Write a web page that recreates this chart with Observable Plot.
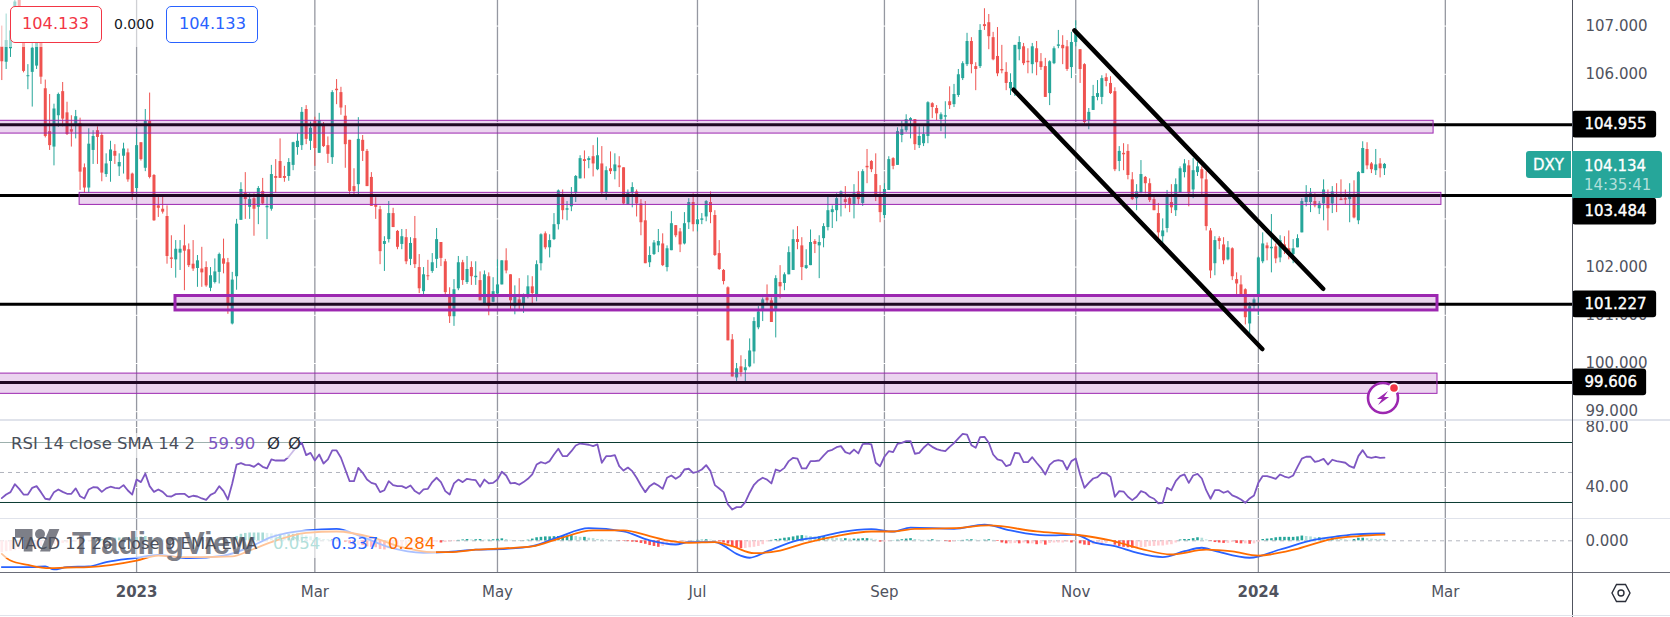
<!DOCTYPE html>
<html><head><meta charset="utf-8">
<script src="https://cdn.jsdelivr.net/npm/d3@7"></script>
<script src="https://cdn.jsdelivr.net/npm/@observablehq/plot@0.6"></script>
<style>
html,body{margin:0;padding:0;background:#fff;overflow:hidden}
#wrap{position:relative;width:1670px;height:617px;overflow:hidden;font-family:"DejaVu Sans",sans-serif}
#wrap>div.p{position:absolute;left:0}
.a{position:absolute;white-space:pre;line-height:1}
svg{overflow:visible}
</style></head><body><div id="wrap"></div>
<script>
const opens=[106.57,106.25,106.53,106.9,107.55,106.75,105.95,106.04,106.17,106.66,
105.7,104.81,104.49,105.14,105.64,105.2,104.85,104.96,104.98,104.06,
103.64,104.42,104.83,104.73,103.92,104.19,104.4,104.08,104.3,104.37,
103.93,103.63,104.58,104.05,105.02,103.9,103.27,103.2,103.05,102.19,
102.15,102.29,102.44,102.36,102.06,101.97,101.96,101.99,101.56,101.68,
101.89,102.17,102.09,100.82,101.8,102.97,103.53,103.24,103.42,103.24,
103.57,103.23,103.2,103.88,104.19,103.88,103.88,104.11,104.48,104.52,
105.27,104.61,105.03,104.36,104.94,104.52,104.27,105.69,105.62,105.13,
104.63,103.67,103.71,104.63,104.4,103.86,103.29,103.19,102.47,102.57,
103.11,102.74,102.47,102.61,102.16,102.59,101.99,101.49,101.82,101.91,
102.16,102.51,102.11,101.43,100.97,101.55,102.09,101.68,101.99,101.78,
101.72,101.23,101.8,101.27,101.44,101.63,102.13,101.84,101.18,101.32,
101.22,101.4,101.59,101.43,102.07,102.69,102.4,102.57,102.88,103.44,
103.18,103.25,103.54,103.83,104.23,104.21,104.29,104.02,104.14,103.54,
104.04,103.98,104.1,104.06,103.29,103.54,103.56,103.31,102.96,102.09,
102.26,102.44,102.48,101.99,102.34,102.86,102.73,102.48,102.92,103.34,
102.88,102.97,103.04,103.34,103.07,102.28,101.93,101.57,100.49,99.7,
99.93,99.85,99.93,100.24,100.74,101.11,101.36,101.3,101.09,101.68,
101.66,101.84,101.93,102.57,102.44,101.97,102.03,102.53,102.44,102.59,
102.82,103.13,103.17,103.5,103.4,103.42,103.3,103.56,103.32,104.09,
104.19,103.92,103.5,103.07,103.59,104.25,104.11,104.73,104.83,105.04,
105.06,104.52,104.56,104.71,105.39,105.29,105.06,105.11,105.43,105.37,
105.56,105.91,106.2,106.68,106.16,106.16,107.03,107.07,106.76,106.37,
106.1,106.04,105.7,105.66,106.51,106.57,106.27,106.2,106.53,106.26,
106.16,105.6,106.22,106.58,106.6,106.57,106.14,106.66,106.51,106.2,
105.04,105.25,105.52,105.52,105.93,105.81,105.64,104.19,104.36,104.4,
103.81,103.42,103.54,103.86,103.73,103.4,103.11,102.63,102.8,103.34,
103.17,103.54,103.96,104.1,103.6,103.96,104.02,103.81,102.75,102.07,
102.59,102.46,102.15,102.38,101.74,101.63,101.53,100.82,101.18,101.4,
102.11,102.44,102.38,102.42,102.19,102.46,102.38,102.26,102.4,102.71,
103.34,103.34,103.36,103.21,103.31,103.5,103.31,103.5,103.41,103.42,
103.4,103.46,102.96,103.94,104.44,104.14,104.0,104.14,104.04];
const highs=[107.0,107.25,107.0,107.6,107.6,106.85,106.2,106.65,106.75,106.8,
105.88,105.58,105.38,105.61,105.83,105.42,105.14,105.25,105.09,104.14,
104.87,104.83,104.91,104.78,104.35,104.61,104.54,104.35,104.57,104.45,
103.95,104.87,104.58,105.27,105.61,103.92,103.45,103.45,103.27,102.65,
102.55,102.55,102.87,102.48,102.55,102.24,102.41,102.11,101.99,102.17,
102.29,102.58,102.18,101.89,102.99,103.75,103.96,103.52,103.52,103.67,
103.84,103.45,104.11,104.23,104.66,104.09,104.25,104.59,104.77,105.31,
105.35,105.01,105.11,105.19,105.0,104.7,105.66,105.89,105.73,105.35,
104.63,104.04,105.1,104.73,104.44,103.96,103.44,103.26,102.63,103.36,
103.22,102.76,102.78,102.78,102.61,103.05,102.26,101.99,102.14,102.28,
102.8,102.51,102.16,101.57,101.74,102.22,102.14,102.22,102.11,102.11,
101.9,101.92,101.88,101.78,102.15,102.13,102.38,101.84,101.61,101.76,
101.44,101.82,101.8,102.13,102.69,102.73,102.67,103.11,103.6,103.6,
103.36,103.65,103.9,104.31,104.41,104.29,104.52,104.68,104.5,104.08,
104.39,104.35,104.29,104.06,103.6,103.75,103.6,103.4,103.36,102.42,
102.55,102.78,102.69,102.44,103.15,102.86,102.8,103.13,103.42,103.52,
103.27,103.11,103.38,103.56,103.17,102.55,101.95,101.59,100.6,100.0,
100.16,100.08,100.51,100.95,101.18,101.36,101.63,101.36,101.82,102.03,
101.88,102.42,102.77,102.84,102.61,102.36,102.77,102.57,102.65,102.9,
103.46,103.27,103.52,103.58,103.67,103.48,103.71,103.98,104.02,104.44,
104.21,104.35,103.69,103.73,104.29,104.27,104.89,105.02,105.16,105.1,
105.06,104.91,104.91,105.43,105.41,105.35,105.2,105.43,105.74,105.79,
106.1,106.26,106.85,106.76,106.24,107.03,107.36,107.24,106.87,106.97,
106.6,106.24,106.01,106.6,106.78,106.64,106.53,106.64,106.68,106.43,
106.33,106.28,106.57,106.91,106.8,106.7,106.87,107.11,106.51,106.22,
105.29,105.77,105.87,105.97,106.01,105.95,105.72,104.5,104.56,104.54,
103.96,103.71,104.21,103.88,103.83,103.5,103.32,103.0,103.59,103.71,
103.83,104.08,104.23,104.21,104.25,104.17,104.08,103.98,102.8,102.63,
102.63,102.61,102.53,102.4,101.88,101.82,101.55,101.26,101.36,102.21,
102.71,102.5,103.09,102.48,102.65,102.63,102.75,102.57,102.67,103.42,
103.69,103.63,103.52,103.36,103.81,103.6,103.67,103.73,103.81,103.6,
103.73,103.79,103.98,104.6,104.58,104.17,104.44,104.25,104.15];
const lows=[105.87,106.1,106.35,106.85,106.9,106.03,105.68,105.32,106.1,105.79,
104.68,104.42,104.1,104.9,104.91,104.73,104.49,104.66,103.59,103.53,
103.53,104.13,104.13,103.77,103.86,103.76,104.13,103.88,103.93,103.76,
103.38,103.53,104.2,103.98,103.83,102.95,103.03,103.1,102.06,101.97,
101.77,101.93,101.51,101.99,101.91,101.58,101.58,101.58,101.49,101.65,
101.65,101.86,101.02,100.8,101.52,102.97,102.99,102.99,102.64,102.88,
103.28,102.57,103.16,103.53,103.84,103.76,103.78,104.0,104.32,104.42,
104.54,104.42,104.09,104.36,104.48,104.15,104.13,105.37,105.15,104.05,
103.5,103.5,103.5,104.19,103.67,103.26,102.99,102.05,101.91,102.5,
102.82,102.36,102.36,102.05,102.03,101.97,101.45,101.43,101.72,101.87,
101.97,102.01,101.41,100.83,100.77,101.51,101.62,101.64,101.62,101.62,
101.3,101.2,100.99,101.26,101.37,101.63,101.86,101.09,101.01,101.09,
101.04,101.34,101.24,101.28,101.92,102.36,102.19,102.55,102.77,102.98,
102.96,103.15,103.34,103.83,103.83,104.04,103.87,104.0,103.5,103.38,
103.92,103.81,103.65,103.29,103.29,103.23,103.04,102.65,102.07,101.99,
102.24,102.3,102.01,101.9,102.34,102.61,102.3,102.46,102.78,102.73,
102.73,102.88,102.94,102.9,102.22,101.93,101.63,100.47,99.72,99.6,
99.72,99.6,99.91,99.99,100.7,100.87,101.24,100.85,100.53,101.34,
101.51,101.84,101.93,102.36,101.72,101.95,102.03,102.28,101.76,102.4,
102.75,102.8,102.94,103.04,103.21,103.13,103.0,103.3,103.26,103.73,
103.96,103.36,102.92,103.0,103.59,104.02,104.11,104.58,104.79,104.66,
104.42,104.46,104.5,104.56,105.08,105.04,104.81,104.66,105.27,105.31,
105.52,105.87,106.16,106.01,105.66,106.12,106.91,106.51,106.28,105.95,
106.01,105.66,105.56,105.54,106.28,106.18,106.01,106.01,105.97,106.08,
105.52,105.35,106.2,106.53,106.2,106.06,105.91,106.57,105.81,104.96,
104.85,105.25,105.45,105.37,105.74,105.58,103.98,103.98,104.0,103.81,
103.38,103.17,103.52,103.52,103.34,103.17,102.55,102.46,102.71,103.11,
103.05,103.54,103.85,103.25,103.42,103.88,103.5,102.75,101.76,101.82,
102.36,102.05,102.13,101.72,101.43,101.4,100.8,100.6,101.09,100.99,
102.07,102.13,101.88,102.07,102.09,102.26,102.15,102.07,102.4,102.71,
103.25,103.13,103.23,103.09,102.96,102.75,103.11,103.13,103.38,103.29,
102.92,103.0,102.88,103.94,104.02,103.94,103.9,103.85,103.9];
const closes=[106.26,106.7,106.9,107.5,107.0,106.06,105.97,106.54,106.66,105.94,
104.71,104.52,105.28,105.58,105.07,104.75,104.8,105.12,103.97,103.64,
104.55,104.71,104.69,103.95,104.14,104.43,104.3,104.17,104.45,103.81,
103.52,104.52,104.23,105.02,103.86,102.96,103.22,103.14,102.22,102.16,
102.37,102.37,102.33,102.03,101.96,102.13,101.88,101.61,101.82,101.9,
102.26,102.06,101.23,101.73,102.89,103.61,103.4,103.4,103.2,103.63,
103.31,103.26,103.92,103.84,103.84,103.84,104.17,104.58,104.61,105.21,
104.65,104.88,104.46,105.04,104.5,104.34,105.62,105.66,105.3,104.54,
103.57,103.57,104.65,104.4,103.67,103.26,103.24,102.32,102.53,103.11,
102.82,102.41,102.63,102.11,102.49,102.05,101.55,101.84,101.8,102.09,
102.57,102.18,101.47,100.97,101.53,102.09,101.72,101.95,101.8,101.81,
101.3,101.84,101.18,101.49,101.63,102.13,101.92,101.3,101.37,101.22,
101.37,101.59,101.45,102.05,102.67,102.4,102.55,102.88,103.58,103.17,
103.21,103.46,103.88,104.25,104.19,104.25,104.14,104.31,103.54,104.0,
103.98,104.12,104.06,103.31,103.54,103.65,103.31,102.92,102.07,102.24,
102.5,102.53,102.03,102.38,102.9,102.65,102.46,102.9,103.34,102.88,
102.98,103.0,103.36,103.13,102.24,101.95,101.7,100.47,99.72,99.89,
99.81,99.91,100.26,100.87,101.07,101.32,101.3,100.85,101.76,101.59,
101.84,102.3,102.57,102.51,101.99,102.03,102.51,102.47,102.51,102.84,
103.17,103.19,103.42,103.56,103.34,103.3,103.52,103.4,103.98,104.06,
104.02,103.5,103.13,103.61,104.23,104.09,104.81,104.85,105.06,105.08,
104.54,104.71,104.75,105.41,105.31,105.18,105.16,105.14,105.35,105.58,
105.99,106.22,106.68,106.2,106.1,106.91,106.99,106.78,106.3,106.01,
106.07,105.81,105.83,106.6,106.66,106.22,106.24,106.57,106.24,106.14,
105.52,106.26,106.53,106.61,106.53,106.1,106.66,106.91,106.1,105.0,
105.21,105.54,105.6,105.91,105.85,105.6,104.02,104.4,104.33,103.9,
103.4,103.56,103.92,103.73,103.38,103.17,102.71,102.75,103.48,103.23,
103.71,104.04,104.14,103.52,104.0,104.08,103.83,102.84,101.92,102.55,
102.53,102.13,102.4,101.8,101.65,101.43,100.95,101.18,101.32,102.19,
102.48,102.38,102.41,102.17,102.55,102.38,102.24,102.38,102.59,103.36,
103.46,103.52,103.27,103.31,103.6,103.21,103.56,103.47,103.38,103.39,
103.46,103.02,103.96,104.46,104.1,104.02,104.12,104.04,104.13];
const rsiValues=[32.9,35.3,36.9,42.2,39.1,35.3,35.3,39.8,40.9,36.9,32.5,32.0,36.9,38.7,37.1,35.8,35.8,39.4,34.2,32.7,
38.7,40.2,40.0,37.1,39.4,40.5,39.8,39.4,41.6,38.0,35.3,45.3,43.6,49.3,40.9,37.1,38.7,37.1,34.2,34.0,
35.6,35.8,35.8,33.6,34.5,34.0,32.7,31.8,35.1,36.5,40.9,37.6,32.0,42.7,55.3,56.2,55.1,54.9,53.8,56.0,
53.8,52.7,58.7,58.0,58.0,58.0,60.5,64.2,67.6,69.8,61.6,63.1,58.0,62.0,56.0,58.7,64.7,64.7,59.8,52.0,
44.2,44.2,53.1,49.8,45.3,43.1,42.2,36.9,38.2,44.2,41.6,40.9,40.9,39.6,41.3,37.6,35.8,38.7,39.1,43.6,
46.5,43.6,37.6,35.3,42.7,45.3,43.6,45.8,45.3,44.9,40.5,45.3,42.7,43.1,45.3,50.5,48.0,42.7,43.1,41.8,
43.6,45.8,48.7,55.3,56.9,56.0,57.6,62.0,65.8,60.9,60.9,64.2,68.0,69.3,68.9,68.5,67.6,68.7,56.5,60.9,
60.9,61.6,54.2,51.3,53.3,50.9,46.5,41.3,36.9,40.9,42.9,41.3,39.1,46.5,48.0,45.8,47.6,52.0,52.5,49.8,
50.5,52.0,54.9,50.9,41.6,39.3,36.9,28.7,25.3,26.9,26.9,30.2,36.5,41.8,44.7,46.5,45.3,42.7,52.0,50.9,
53.1,57.6,59.8,59.3,52.7,52.7,57.6,57.6,58.0,61.3,64.2,65.1,66.9,67.6,63.6,62.5,65.3,62.7,68.9,69.3,
68.7,56.5,54.2,60.5,64.2,63.6,69.1,69.8,70.9,70.9,62.5,63.1,66.5,69.1,67.1,65.6,64.7,64.2,67.1,69.6,
72.7,75.8,75.3,68.2,66.5,73.6,73.8,69.8,62.0,58.7,58.0,54.2,55.3,63.1,62.7,56.9,56.9,60.2,56.5,53.1,
48.7,55.1,57.6,58.2,57.6,52.0,57.6,59.3,48.7,39.8,43.1,46.0,46.9,49.8,49.3,47.1,33.8,37.6,37.3,33.8,
31.6,33.8,37.6,36.5,33.8,32.5,29.4,29.8,39.8,38.2,44.2,47.6,48.7,43.1,48.0,49.1,46.0,38.2,32.5,38.2,
38.2,36.5,37.6,34.7,33.6,32.0,29.8,32.7,34.7,43.1,47.6,47.6,46.7,45.8,48.7,47.3,46.5,48.0,53.8,59.3,
60.5,60.5,57.1,57.8,59.1,55.3,58.5,57.6,57.1,56.5,54.2,53.1,60.9,64.9,60.5,59.8,60.5,59.8,59.9];
const macdBars=[0,4,7,10,12,15,20,24,31,36,43,51,57,62,70,77,82,89,97,102,109,116,122,128,135,143,149,155,158,164,166,169,172,176,183,188,193,200,205,209,219,226,232,240,247,251,256,261,267,272,276,279,287,294,302,307,312,318];
const macdValues=[-1.21,-1.21,-1.21,-1.18,-1.32,-1.21,-1.18,-0.98,-0.78,-0.65,-0.8,-0.68,-0.29,0.17,0.48,0.55,0.25,-0.29,-0.55,-0.52,-0.41,-0.37,-0.25,0.17,0.58,0.43,0.02,-0.17,-0.06,-0.06,-0.22,-0.6,-0.78,-0.49,0.02,0.17,0.4,0.54,0.43,0.61,0.55,0.75,0.48,0.25,0.28,-0.06,-0.25,-0.55,-0.75,-0.48,-0.32,-0.46,-0.78,-0.4,0.05,0.2,0.31,0.337];
const signalBars=[0,2,6,11,15,20,31,36,41,46,53,57,62,70,77,85,92,99,103,109,116,122,128,136,143,149,153,158,164,168,173,179,185,192,200,205,210,219,227,238,247,255,262,269,277,283,289,298,306,312,318];
const signalValues=[-0.6,-0.91,-1.11,-1.26,-1.23,-1.21,-0.91,-0.68,-0.75,-0.75,-0.72,-0.45,-0.06,0.37,0.43,0.17,-0.29,-0.52,-0.52,-0.41,-0.34,-0.26,0.09,0.48,0.48,0.22,0.02,-0.09,-0.06,-0.25,-0.57,-0.45,-0.09,0.22,0.43,0.43,0.55,0.58,0.71,0.43,0.28,0.02,-0.37,-0.63,-0.41,-0.49,-0.68,-0.37,0.09,0.22,0.284];
const histValues=[-0.55,-0.5,-0.48,-0.45,-0.4,-0.38,-0.35,-0.3,-0.28,-0.25,-0.22,-0.2,-0.18,-0.15,-0.12,-0.1,-0.08,-0.06,-0.05,-0.03,
-0.02,0.02,0.04,0.06,0.08,0.1,0.12,0.13,0.14,0.12,0.1,0.15,0.18,0.2,0.14,0.1,0.06,0.05,0.04,0.04,
0.03,0.03,0.02,0.02,0.02,0.01,0.01,0.01,0.02,0.03,0.06,0.05,0.02,0.1,0.2,0.3,0.34,0.36,0.36,0.36,
0.36,0.34,0.32,0.3,0.3,0.28,0.28,0.3,0.32,0.3,0.22,0.18,0.12,0.1,0.06,0.05,0.06,0.05,0.0,-0.08,
-0.14,-0.2,-0.2,-0.22,-0.28,-0.3,-0.32,-0.4,-0.42,-0.38,-0.32,-0.3,-0.28,-0.26,-0.24,-0.2,-0.16,-0.12,-0.06,-0.06,
-0.06,-0.1,-0.08,-0.06,-0.04,0.02,0.04,0.06,0.04,0.05,0.06,0.03,0.03,0.05,0.07,0.09,0.06,0.02,0.01,0.01,
0.01,0.03,0.08,0.14,0.16,0.18,0.18,0.19,0.2,0.2,0.22,0.24,0.2,0.16,0.16,0.12,0.1,0.06,0.05,0.03,
0.02,0.01,-0.01,-0.02,-0.04,-0.06,-0.08,-0.12,-0.16,-0.22,-0.26,-0.3,-0.26,-0.2,-0.16,-0.1,-0.06,-0.04,-0.02,0.01,
0.02,0.03,0.05,0.03,0.0,-0.05,-0.1,-0.15,-0.28,-0.32,-0.36,-0.35,-0.32,-0.3,-0.26,-0.18,-0.05,0.02,0.06,0.08,
0.12,0.14,0.18,0.22,0.24,0.22,0.2,0.18,0.18,0.2,0.16,0.14,0.12,0.1,0.1,0.08,0.08,0.08,0.1,0.1,
0.08,0.04,-0.06,-0.06,-0.02,0.01,0.03,0.05,0.08,0.1,0.06,0.04,0.02,0.02,0.05,0.02,0.01,-0.02,-0.06,-0.04,
0.01,0.02,0.04,0.05,0.03,0.02,0.03,0.05,0.02,-0.03,-0.1,-0.14,-0.14,-0.12,-0.14,-0.1,-0.14,-0.14,-0.18,-0.14,
-0.2,-0.12,-0.1,-0.1,-0.1,-0.06,-0.1,-0.04,-0.14,-0.2,-0.22,-0.18,-0.16,-0.14,-0.12,-0.04,-0.2,-0.26,-0.3,-0.32,
-0.34,-0.32,-0.32,-0.3,-0.26,-0.26,-0.24,-0.24,-0.2,-0.18,-0.1,0.04,0.06,0.06,0.1,0.14,0.12,0.04,-0.02,-0.08,
-0.1,-0.12,-0.12,-0.08,-0.12,-0.14,-0.14,-0.16,-0.14,-0.06,0.06,0.08,0.1,0.14,0.16,0.16,0.16,0.16,0.18,0.22,
0.2,0.18,0.14,0.14,0.12,0.1,0.1,0.08,0.06,0.04,0.02,0.06,0.12,0.12,0.1,0.08,0.06,0.055,0.054];

const monthBars=[31,72,114,160,203,247,289,332];
const monthLabels=["2023","Mar","May","Jul","Sep","Nov","2024","Mar"];
const yearBars=[31,289];
const priceTicks=[99,100,101,102,103,104,105,106,107];
const priceLabelTicks=[99,100,101,102,106,107];
const levelValues=[104.955,103.484,101.227,99.606];
const levelLabelAt=[104.955,103.15,101.227,99.606];
const levelLabelEnd=[380.6,380.6,380.6,378.3];
const levelLabels=["104.955","103.484","101.227","99.606"];
const zoneStart=[-5,17.9,-5];
const zoneEnd=[329.3,331.1,330.2];
const zoneTop=[105.035,103.54,99.79];
const zoneBottom=[104.77,103.29,99.37];
const thickStart=[39.95],thickEnd=[330.2],thickTop=[101.40],thickBottom=[101.10];
const channelA=[{x:246.7,y:106.91},{x:303.9,y:101.55}];
const channelB=[{x:232.7,y:105.68},{x:289.9,y:100.30}];

const GREEN="#26a69a",RED="#ef5350",GRID="#9598a1",AXIS="#50535e";
const XDOM=[-0.299,361.25];
const wrap=document.getElementById("wrap");
const common={width:1670,marginLeft:0,marginRight:98,marginTop:0,
  x:{domain:XDOM,axis:null},color:{type:"identity"},
  style:{background:"transparent",fontFamily:"DejaVu Sans",fontSize:"15px",overflow:"visible"}};
function place(el,top){const d=document.createElement("div");d.className="p";d.style.top=top+"px";d.appendChild(el);wrap.appendChild(d);}

const rows=opens.map((o,i)=>({i,o,h:highs[i],l:lows[i],c:closes[i],col:closes[i]>=o?GREEN:RED}));
const zones=zoneStart.map((s,k)=>({s,e:zoneEnd[k],t:zoneTop[k],b:zoneBottom[k]}));
const thick=thickStart.map((s,k)=>({s,e:thickEnd[k],t:thickTop[k],b:thickBottom[k]}));
const levels=levelValues.map((v,k)=>({v,at:levelLabelAt[k],end:levelLabelEnd[k],label:levelLabels[k]}));

place(Plot.plot({...common,height:420,marginBottom:0,
  y:{domain:[98.817,107.531],axis:null},
  marks:[
    Plot.ruleX(monthBars,{stroke:GRID,strokeWidth:1.3}),
    Plot.ruleY(priceTicks,{stroke:"#fff",strokeWidth:1}),
    Plot.axisY(priceLabelTicks,{anchor:"right",tickSize:0,tickPadding:13,tickFormat:d=>d.toFixed(3),fill:AXIS,label:null,fontSize:15}),
    Plot.ruleX(rows,{x:"i",y1:"l",y2:"h",stroke:"col",strokeWidth:1}),
    Plot.ruleX(rows,{x:"i",y1:"o",y2:"c",stroke:"col",strokeWidth:3}),
    Plot.ruleY(levelValues,{stroke:"#000",strokeWidth:3}),
    Plot.rect(zones,{x1:"s",x2:"e",y1:"b",y2:"t",fill:"#9c27b0",fillOpacity:0.2,stroke:"#9c27b0",strokeWidth:1}),
    Plot.rect(thick,{x1:"s",x2:"e",y1:"b",y2:"t",fill:"#9c27b0",fillOpacity:0.2,stroke:"#9c27b0",strokeWidth:3}),
    Plot.line(channelA,{x:"x",y:"y",stroke:"#000",strokeWidth:4.5,strokeLinecap:"round"}),
    Plot.line(channelB,{x:"x",y:"y",stroke:"#000",strokeWidth:4.5,strokeLinecap:"round"}),
    Plot.rect(levels,{x1:361.25,x2:"end",y1:d=>d.at-0.277,y2:d=>d.at+0.277,fill:"#000",rx:3}),
    Plot.text(levels,{x:364,y:"at",text:"label",textAnchor:"start",fill:"#fff",stroke:"#fff",strokeWidth:0.4,fontSize:15})
  ]}),0);

place(Plot.plot({...common,height:98,marginBottom:0,
  y:{domain:[19.33,84.67],axis:null},
  marks:[
    Plot.ruleX(monthBars,{stroke:GRID,strokeWidth:1.3}),
    Plot.ruleY([80,40],{stroke:"#fff",strokeWidth:1}),
    Plot.axisY([80,40],{anchor:"right",tickSize:0,tickPadding:13,tickFormat:d=>d.toFixed(2),fill:AXIS,label:null,fontSize:15}),
    Plot.ruleY([50],{stroke:"#b2b5be",strokeWidth:1,strokeDasharray:"4,4"}),
    Plot.ruleY([70,30],{stroke:"#0b3b32",strokeWidth:1}),
    Plot.line(rsiValues,{x:(d,i)=>i,y:d=>d,stroke:"#7e57c2",strokeWidth:1.8})
  ]}),420);

const histRows=histValues.map((v,i)=>{const p=i?histValues[i-1]:v;
  return {i,v,col:v>=0?(v>=p?"#26a69a":"#b2dfdb"):(v<p?"#ff5252":"#ffcdd2")};});
place(Plot.plot({...common,height:99,marginBottom:45,
  y:{domain:[-1.46,1.028],axis:null},
  marks:[
    Plot.ruleX(monthBars,{stroke:GRID,strokeWidth:1.3}),
    Plot.axisX(monthBars.filter(b=>!yearBars.includes(b)),{anchor:"bottom",tickSize:0,tickPadding:14,tickFormat:b=>monthLabels[monthBars.indexOf(b)],fill:AXIS,label:null,fontSize:15}),
    Plot.axisX(yearBars,{anchor:"bottom",tickSize:0,tickPadding:14,tickFormat:b=>monthLabels[monthBars.indexOf(b)],fill:AXIS,label:null,fontSize:15,fontWeight:"bold"}),
    Plot.axisY([0],{anchor:"right",tickSize:0,tickPadding:13,tickFormat:d=>d.toFixed(3),fill:AXIS,label:null,fontSize:15}),
    Plot.ruleY([0],{stroke:"#b2b5be",strokeWidth:1,strokeDasharray:"4,4"}),
    Plot.ruleX(histRows,{x:"i",y1:0,y2:"v",stroke:"col",strokeWidth:2.6}),
    Plot.line(macdValues,{x:(d,i)=>macdBars[i],y:d=>d,stroke:"#2962ff",strokeWidth:1.8,curve:"monotone-x"}),
    Plot.line(signalValues,{x:(d,i)=>signalBars[i],y:d=>d,stroke:"#ff6d00",strokeWidth:1.8,curve:"monotone-x"})
  ]}),518);

function box(l,t,w,h,css){const d=document.createElement("div");d.className="a";d.style.cssText+=`left:${l}px;top:${t}px;width:${w}px;height:${h}px;${css||""}`;wrap.appendChild(d);return d;}
function txt(s,l,c,t,size,css){const d=document.createElement("div");d.className="a";d.textContent=s;
  d.style.cssText+=`left:${l}px;top:${c-size*0.5}px;font-size:${size}px;color:${t};${css||""}`;wrap.appendChild(d);return d;}

// pane separators and axis frame
box(0,419,1670,2,"background:#e0e3eb");
box(0,518,1670,1,"background:#e0e3eb");
box(0,572,1670,1,"background:#6a6d78");
box(1572,0,1,617,"background:#50535e");
box(0,615,1670,1,"background:#e0e3eb");

// legend veils
box(0,0,262,47,"background:rgba(255,255,255,.55)");
box(0,433,300,25,"background:rgba(255,255,255,.6)");
box(0,530,436,28,"background:rgba(255,255,255,.6)");

// top legend
box(10,6,90,35,"border:1px solid #f23645;border-radius:5px;background:#fff");
box(166,6,90,35,"border:1px solid #2962ff;border-radius:5px;background:#fff");
txt("104.133",22,24,"#f23645",16.2);
txt("0.000",114,24,"#131722",14);
txt("104.133",179,24,"#2962ff",16.2);

// watermark
const logo=document.createElement("div");
logo.innerHTML=`<svg width="45" height="35" viewBox="0 0 36 28" style="position:absolute;left:15px;top:524px;opacity:.8"><path fill="#5d606b" d="M14 22H7V11H0V4h14v18ZM28 22h-8l7.5-18h8L28 22Z"/><circle fill="#5d606b" cx="20" cy="8" r="4"/></svg>`;
wrap.appendChild(logo);
txt("TradingView",72,543,"#5d606b",31,'font-family:"Liberation Sans";font-weight:bold;opacity:.8');

// pane legends
const LG="#4a4e5a";
txt("RSI 14 close SMA 14 2",11,444,LG,16.5);
txt("59.90",208,444,"#7e57c2",16.5);
txt("Ø",267,444,"#2a2e39",16.5);
txt("Ø",288,444,"#2a2e39",16.5);
txt("MACD 12 26 close 9 EMA EMA",11,544,LG,16.4);
txt("0.054",273,544,"#b2dfdb",16.5);
txt("0.337",331,544,"#2962ff",16.5);
txt("0.284",388,544,"#ff6d00",16.5);

// last price tag
box(1526,151,45,27,"background:#26a69a;border-radius:3px 0 0 3px");
txt("DXY",1533,165,"#fff",15,"-webkit-text-stroke:.3px #fff");
box(1572,151,90,47,"background:#26a69a;border-radius:0 3px 3px 0");
txt("104.134",1584,166,"#fff",15,"-webkit-text-stroke:.3px #fff");
txt("14:35:41",1584,185,"#b2dfdb",15);

// alert icon and settings icon
const icons=document.createElement("div");
icons.innerHTML=`<svg width="50" height="50" viewBox="0 0 50 50" style="position:absolute;left:1358px;top:373px">
<circle cx="25" cy="25" r="15" fill="#fff" stroke="#9c27b0" stroke-width="2.6"/>
<path d="M30 18 L19 26 L24 26 L20 32 L31 24 L26 24 Z" fill="#9c27b0"/>
<circle cx="36" cy="15" r="5.5" fill="#fff"/><circle cx="36" cy="15" r="3.8" fill="#f23645"/></svg>
<svg width="24" height="24" viewBox="0 0 24 24" style="position:absolute;left:1609px;top:581px">
<path d="M7.5 3.5h9L21 12l-4.500 8.500h-9L3 12Z" fill="none" stroke="#2a2e39" stroke-width="1.4"/>
<circle cx="12" cy="12" r="3" fill="none" stroke="#2a2e39" stroke-width="1.4"/></svg>`;
wrap.appendChild(icons);
</script></body></html>
